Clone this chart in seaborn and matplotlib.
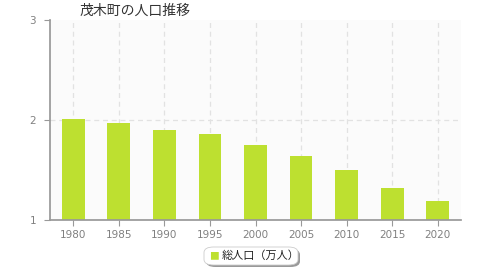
import matplotlib
matplotlib.use("Agg")
import matplotlib.pyplot as plt
import seaborn as sns
import pandas as pd
from matplotlib.patches import FancyBboxPatch

years = ["1980", "1985", "1990", "1995", "2000", "2005", "2010", "2015", "2020"]
population = [2.01, 1.97, 1.90, 1.86, 1.75, 1.645, 1.505, 1.32, 1.19]
series_name = "総人口（万人）"
title = "茂木町の人口推移"

sns.set_theme(style="white")
plt.rcParams['font.family'] = ['Noto Sans CJK JP', 'DejaVu Sans']

df = pd.DataFrame({"year": years, "pop": population})

fig = plt.figure(figsize=(4.8, 2.8), dpi=100)
ax = fig.add_axes([50/480, 1-220/280, 411/480, 200/280])
ax.set_facecolor("#fbfbfb")

sns.barplot(data=df, x="year", y="pop", color="#bde030", width=0.5,
            saturation=1, ax=ax, zorder=3, edgecolor="none")

ax.set_ylim(1, 3)
ax.set_xlim(-0.51, 8.51)
ax.set_yticks([1, 2, 3])
ax.set_xlabel("")
ax.set_ylabel("")

for x in range(len(years)):
    ax.axvline(x, color="#e2e2e2", lw=0.9, ls=(0, (4, 3)), zorder=1)
ax.axhline(2, color="#e2e2e2", lw=0.9, ls=(0, (4, 3)), zorder=1)

for s in ["top", "right"]:
    ax.spines[s].set_visible(False)
ax.spines["left"].set_color("#999999")
ax.spines["bottom"].set_color("#999999")
ax.spines["left"].set_zorder(4)
ax.spines["bottom"].set_zorder(4)
ax.tick_params(axis="both", colors="#999999", labelcolor="#808080", labelsize=7.5,
               length=4, width=0.8, direction="out", left=True, bottom=True)
ax.tick_params(axis="y", pad=6)
ax.tick_params(axis="x", pad=3)
for lab in ax.get_xticklabels() + ax.get_yticklabels():
    lab.set_family("DejaVu Sans")

fig.text(80/480, 1-11/280, title, fontsize=10, color="#333333", ha="left", va="center")

# legend box
shadow = FancyBboxPatch((206/480, 1-267/280), 94/480, 18/280,
                        boxstyle="round,pad=0,rounding_size=0.02",
                        transform=fig.transFigure, facecolor="#999999",
                        edgecolor="none", zorder=1)
box = FancyBboxPatch((204/480, 1-265/280), 94/480, 18/280,
                     boxstyle="round,pad=0,rounding_size=0.02",
                     transform=fig.transFigure, facecolor="white",
                     edgecolor="#cccccc", lw=0.6, zorder=2)
fig.patches.extend([shadow, box])
fig.text(214/480, 1-256/280, "■", fontsize=7, color="#bde030", ha="center", va="center")
fig.text(222/480, 1-256/280, series_name, fontsize=8, color="#222222", ha="left", va="center")

fig.savefig("out.png", dpi=100)
